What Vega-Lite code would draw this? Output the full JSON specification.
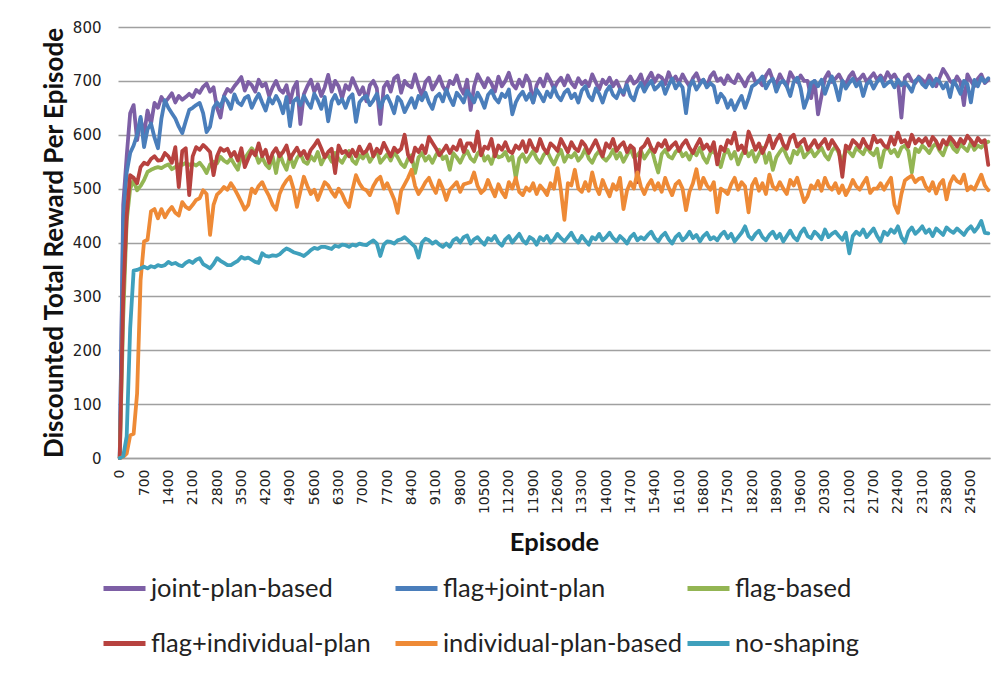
{
"$schema": "https://vega.github.io/schema/vega-lite/v6.json",
"width": 872, "height": 431,
"autosize": {"type": "none"},
"padding": {"left": 118, "top": 27, "right": 12, "bottom": 222},
"background": "white",
"config": {"view": {"stroke": null}},
"data": {"values": [
{"episode":0,"joint-plan-based":0,"flag+joint-plan":0,"flag-based":0,"flag+individual-plan":0,"individual-plan-based":0,"no-shaping":0},
{"episode":100,"joint-plan-based":470,"flag+joint-plan":440,"flag-based":260,"flag+individual-plan":300,"individual-plan-based":2,"no-shaping":3},
{"episode":200,"joint-plan-based":560,"flag+joint-plan":530,"flag-based":440,"flag+individual-plan":450,"individual-plan-based":8,"no-shaping":40},
{"episode":300,"joint-plan-based":640,"flag+joint-plan":566,"flag-based":500,"flag+individual-plan":525,"individual-plan-based":42,"no-shaping":240},
{"episode":400,"joint-plan-based":655,"flag+joint-plan":580,"flag-based":515,"flag+individual-plan":520,"individual-plan-based":45,"no-shaping":348},
{"episode":500,"joint-plan-based":590,"flag+joint-plan":600,"flag-based":497,"flag+individual-plan":510,"individual-plan-based":120,"no-shaping":349},
{"episode":600,"joint-plan-based":630,"flag+joint-plan":633,"flag-based":505,"flag+individual-plan":540,"individual-plan-based":330,"no-shaping":352},
{"episode":700,"joint-plan-based":600,"flag+joint-plan":577,"flag-based":516,"flag+individual-plan":548,"individual-plan-based":402,"no-shaping":355},
{"episode":800,"joint-plan-based":645,"flag+joint-plan":610,"flag-based":531,"flag+individual-plan":545,"individual-plan-based":405,"no-shaping":352},
{"episode":900,"joint-plan-based":620,"flag+joint-plan":621,"flag-based":535,"flag+individual-plan":555,"individual-plan-based":458,"no-shaping":356},
{"episode":1000,"joint-plan-based":659,"flag+joint-plan":595,"flag-based":538,"flag+individual-plan":560,"individual-plan-based":462,"no-shaping":354},
{"episode":1100,"joint-plan-based":650,"flag+joint-plan":575,"flag-based":540,"flag+individual-plan":552,"individual-plan-based":445,"no-shaping":358},
{"episode":1200,"joint-plan-based":670,"flag+joint-plan":630,"flag-based":538,"flag+individual-plan":553,"individual-plan-based":462,"no-shaping":356},
{"episode":1300,"joint-plan-based":660,"flag+joint-plan":664,"flag-based":542,"flag+individual-plan":566,"individual-plan-based":447,"no-shaping":358},
{"episode":1400,"joint-plan-based":668,"flag+joint-plan":650,"flag-based":545,"flag+individual-plan":560,"individual-plan-based":458,"no-shaping":364},
{"episode":1500,"joint-plan-based":677,"flag+joint-plan":640,"flag-based":536,"flag+individual-plan":548,"individual-plan-based":466,"no-shaping":360},
{"episode":1600,"joint-plan-based":660,"flag+joint-plan":630,"flag-based":540,"flag+individual-plan":577,"individual-plan-based":455,"no-shaping":362},
{"episode":1700,"joint-plan-based":672,"flag+joint-plan":615,"flag-based":545,"flag+individual-plan":503,"individual-plan-based":450,"no-shaping":358},
{"episode":1800,"joint-plan-based":665,"flag+joint-plan":603,"flag-based":544,"flag+individual-plan":570,"individual-plan-based":475,"no-shaping":356},
{"episode":1900,"joint-plan-based":670,"flag+joint-plan":625,"flag-based":548,"flag+individual-plan":575,"individual-plan-based":466,"no-shaping":362},
{"episode":2000,"joint-plan-based":676,"flag+joint-plan":646,"flag-based":544,"flag+individual-plan":488,"individual-plan-based":462,"no-shaping":366},
{"episode":2100,"joint-plan-based":670,"flag+joint-plan":650,"flag-based":546,"flag+individual-plan":560,"individual-plan-based":470,"no-shaping":362},
{"episode":2200,"joint-plan-based":683,"flag+joint-plan":655,"flag-based":543,"flag+individual-plan":577,"individual-plan-based":479,"no-shaping":368},
{"episode":2300,"joint-plan-based":678,"flag+joint-plan":659,"flag-based":548,"flag+individual-plan":572,"individual-plan-based":482,"no-shaping":371},
{"episode":2400,"joint-plan-based":689,"flag+joint-plan":640,"flag-based":540,"flag+individual-plan":581,"individual-plan-based":497,"no-shaping":360},
{"episode":2500,"joint-plan-based":695,"flag+joint-plan":605,"flag-based":529,"flag+individual-plan":575,"individual-plan-based":490,"no-shaping":356},
{"episode":2600,"joint-plan-based":680,"flag+joint-plan":615,"flag-based":545,"flag+individual-plan":568,"individual-plan-based":414,"no-shaping":352},
{"episode":2700,"joint-plan-based":688,"flag+joint-plan":650,"flag-based":550,"flag+individual-plan":525,"individual-plan-based":470,"no-shaping":360},
{"episode":2800,"joint-plan-based":650,"flag+joint-plan":660,"flag-based":547,"flag+individual-plan":560,"individual-plan-based":489,"no-shaping":371},
{"episode":2900,"joint-plan-based":632,"flag+joint-plan":652,"flag-based":559,"flag+individual-plan":575,"individual-plan-based":495,"no-shaping":366},
{"episode":3000,"joint-plan-based":672,"flag+joint-plan":670,"flag-based":552,"flag+individual-plan":570,"individual-plan-based":503,"no-shaping":362},
{"episode":3100,"joint-plan-based":685,"flag+joint-plan":662,"flag-based":548,"flag+individual-plan":574,"individual-plan-based":498,"no-shaping":358},
{"episode":3200,"joint-plan-based":680,"flag+joint-plan":648,"flag-based":556,"flag+individual-plan":560,"individual-plan-based":510,"no-shaping":358},
{"episode":3300,"joint-plan-based":690,"flag+joint-plan":675,"flag-based":545,"flag+individual-plan":568,"individual-plan-based":500,"no-shaping":362},
{"episode":3400,"joint-plan-based":698,"flag+joint-plan":660,"flag-based":535,"flag+individual-plan":552,"individual-plan-based":488,"no-shaping":366},
{"episode":3500,"joint-plan-based":707,"flag+joint-plan":655,"flag-based":562,"flag+individual-plan":575,"individual-plan-based":475,"no-shaping":373},
{"episode":3600,"joint-plan-based":682,"flag+joint-plan":668,"flag-based":556,"flag+individual-plan":540,"individual-plan-based":461,"no-shaping":370},
{"episode":3700,"joint-plan-based":698,"flag+joint-plan":672,"flag-based":566,"flag+individual-plan":556,"individual-plan-based":470,"no-shaping":372},
{"episode":3800,"joint-plan-based":692,"flag+joint-plan":650,"flag-based":575,"flag+individual-plan":570,"individual-plan-based":500,"no-shaping":368},
{"episode":3900,"joint-plan-based":680,"flag+joint-plan":664,"flag-based":566,"flag+individual-plan":562,"individual-plan-based":492,"no-shaping":364},
{"episode":4000,"joint-plan-based":702,"flag+joint-plan":676,"flag-based":548,"flag+individual-plan":584,"individual-plan-based":505,"no-shaping":362},
{"episode":4100,"joint-plan-based":690,"flag+joint-plan":660,"flag-based":558,"flag+individual-plan":560,"individual-plan-based":512,"no-shaping":380},
{"episode":4200,"joint-plan-based":695,"flag+joint-plan":645,"flag-based":545,"flag+individual-plan":572,"individual-plan-based":498,"no-shaping":375},
{"episode":4300,"joint-plan-based":672,"flag+joint-plan":668,"flag-based":538,"flag+individual-plan":548,"individual-plan-based":486,"no-shaping":374},
{"episode":4400,"joint-plan-based":688,"flag+joint-plan":658,"flag-based":560,"flag+individual-plan":566,"individual-plan-based":470,"no-shaping":376},
{"episode":4500,"joint-plan-based":700,"flag+joint-plan":672,"flag-based":529,"flag+individual-plan":575,"individual-plan-based":461,"no-shaping":375},
{"episode":4600,"joint-plan-based":684,"flag+joint-plan":660,"flag-based":566,"flag+individual-plan":560,"individual-plan-based":490,"no-shaping":378},
{"episode":4700,"joint-plan-based":678,"flag+joint-plan":640,"flag-based":548,"flag+individual-plan":568,"individual-plan-based":505,"no-shaping":384},
{"episode":4800,"joint-plan-based":692,"flag+joint-plan":670,"flag-based":535,"flag+individual-plan":580,"individual-plan-based":515,"no-shaping":389},
{"episode":4900,"joint-plan-based":660,"flag+joint-plan":616,"flag-based":562,"flag+individual-plan":555,"individual-plan-based":522,"no-shaping":386},
{"episode":5000,"joint-plan-based":686,"flag+joint-plan":662,"flag-based":540,"flag+individual-plan":566,"individual-plan-based":500,"no-shaping":382},
{"episode":5100,"joint-plan-based":698,"flag+joint-plan":668,"flag-based":556,"flag+individual-plan":576,"individual-plan-based":466,"no-shaping":380},
{"episode":5200,"joint-plan-based":620,"flag+joint-plan":655,"flag-based":565,"flag+individual-plan":562,"individual-plan-based":495,"no-shaping":378},
{"episode":5300,"joint-plan-based":675,"flag+joint-plan":672,"flag-based":550,"flag+individual-plan":570,"individual-plan-based":522,"no-shaping":375},
{"episode":5400,"joint-plan-based":690,"flag+joint-plan":660,"flag-based":546,"flag+individual-plan":556,"individual-plan-based":505,"no-shaping":380},
{"episode":5500,"joint-plan-based":702,"flag+joint-plan":650,"flag-based":560,"flag+individual-plan":572,"individual-plan-based":490,"no-shaping":386},
{"episode":5600,"joint-plan-based":680,"flag+joint-plan":676,"flag-based":552,"flag+individual-plan":580,"individual-plan-based":498,"no-shaping":390},
{"episode":5700,"joint-plan-based":694,"flag+joint-plan":664,"flag-based":568,"flag+individual-plan":590,"individual-plan-based":479,"no-shaping":388},
{"episode":5800,"joint-plan-based":672,"flag+joint-plan":648,"flag-based":545,"flag+individual-plan":575,"individual-plan-based":496,"no-shaping":392},
{"episode":5900,"joint-plan-based":688,"flag+joint-plan":670,"flag-based":558,"flag+individual-plan":558,"individual-plan-based":512,"no-shaping":392},
{"episode":6000,"joint-plan-based":711,"flag+joint-plan":625,"flag-based":562,"flag+individual-plan":568,"individual-plan-based":506,"no-shaping":390},
{"episode":6100,"joint-plan-based":680,"flag+joint-plan":662,"flag-based":550,"flag+individual-plan":574,"individual-plan-based":494,"no-shaping":388},
{"episode":6200,"joint-plan-based":700,"flag+joint-plan":674,"flag-based":566,"flag+individual-plan":529,"individual-plan-based":485,"no-shaping":394},
{"episode":6300,"joint-plan-based":690,"flag+joint-plan":658,"flag-based":555,"flag+individual-plan":580,"individual-plan-based":500,"no-shaping":392},
{"episode":6400,"joint-plan-based":668,"flag+joint-plan":666,"flag-based":548,"flag+individual-plan":566,"individual-plan-based":490,"no-shaping":396},
{"episode":6500,"joint-plan-based":692,"flag+joint-plan":650,"flag-based":560,"flag+individual-plan":570,"individual-plan-based":475,"no-shaping":395},
{"episode":6600,"joint-plan-based":684,"flag+joint-plan":668,"flag-based":570,"flag+individual-plan":560,"individual-plan-based":466,"no-shaping":392},
{"episode":6700,"joint-plan-based":705,"flag+joint-plan":675,"flag-based":552,"flag+individual-plan":572,"individual-plan-based":498,"no-shaping":396},
{"episode":6800,"joint-plan-based":690,"flag+joint-plan":624,"flag-based":546,"flag+individual-plan":560,"individual-plan-based":525,"no-shaping":394},
{"episode":6900,"joint-plan-based":675,"flag+joint-plan":660,"flag-based":562,"flag+individual-plan":578,"individual-plan-based":510,"no-shaping":398},
{"episode":7000,"joint-plan-based":688,"flag+joint-plan":668,"flag-based":556,"flag+individual-plan":565,"individual-plan-based":500,"no-shaping":396},
{"episode":7100,"joint-plan-based":662,"flag+joint-plan":672,"flag-based":566,"flag+individual-plan":570,"individual-plan-based":497,"no-shaping":395},
{"episode":7200,"joint-plan-based":692,"flag+joint-plan":655,"flag-based":550,"flag+individual-plan":582,"individual-plan-based":488,"no-shaping":400},
{"episode":7300,"joint-plan-based":700,"flag+joint-plan":664,"flag-based":560,"flag+individual-plan":560,"individual-plan-based":505,"no-shaping":404},
{"episode":7400,"joint-plan-based":686,"flag+joint-plan":676,"flag-based":572,"flag+individual-plan":574,"individual-plan-based":516,"no-shaping":398},
{"episode":7500,"joint-plan-based":620,"flag+joint-plan":650,"flag-based":548,"flag+individual-plan":566,"individual-plan-based":522,"no-shaping":375},
{"episode":7600,"joint-plan-based":688,"flag+joint-plan":666,"flag-based":556,"flag+individual-plan":585,"individual-plan-based":500,"no-shaping":396},
{"episode":7700,"joint-plan-based":698,"flag+joint-plan":672,"flag-based":564,"flag+individual-plan":572,"individual-plan-based":510,"no-shaping":402},
{"episode":7800,"joint-plan-based":680,"flag+joint-plan":658,"flag-based":552,"flag+individual-plan":560,"individual-plan-based":495,"no-shaping":401},
{"episode":7900,"joint-plan-based":705,"flag+joint-plan":640,"flag-based":568,"flag+individual-plan":576,"individual-plan-based":480,"no-shaping":398},
{"episode":8000,"joint-plan-based":710,"flag+joint-plan":670,"flag-based":558,"flag+individual-plan":568,"individual-plan-based":455,"no-shaping":404},
{"episode":8100,"joint-plan-based":678,"flag+joint-plan":662,"flag-based":546,"flag+individual-plan":574,"individual-plan-based":496,"no-shaping":406},
{"episode":8200,"joint-plan-based":700,"flag+joint-plan":642,"flag-based":540,"flag+individual-plan":600,"individual-plan-based":508,"no-shaping":410},
{"episode":8300,"joint-plan-based":692,"flag+joint-plan":655,"flag-based":556,"flag+individual-plan":562,"individual-plan-based":520,"no-shaping":404},
{"episode":8400,"joint-plan-based":688,"flag+joint-plan":668,"flag-based":562,"flag+individual-plan":550,"individual-plan-based":535,"no-shaping":398},
{"episode":8500,"joint-plan-based":712,"flag+joint-plan":650,"flag-based":529,"flag+individual-plan":576,"individual-plan-based":505,"no-shaping":392},
{"episode":8600,"joint-plan-based":690,"flag+joint-plan":672,"flag-based":558,"flag+individual-plan":568,"individual-plan-based":490,"no-shaping":372},
{"episode":8700,"joint-plan-based":672,"flag+joint-plan":664,"flag-based":566,"flag+individual-plan":580,"individual-plan-based":500,"no-shaping":400},
{"episode":8800,"joint-plan-based":698,"flag+joint-plan":678,"flag-based":552,"flag+individual-plan":566,"individual-plan-based":512,"no-shaping":407},
{"episode":8900,"joint-plan-based":706,"flag+joint-plan":660,"flag-based":560,"flag+individual-plan":596,"individual-plan-based":520,"no-shaping":404},
{"episode":9000,"joint-plan-based":684,"flag+joint-plan":648,"flag-based":548,"flag+individual-plan":585,"individual-plan-based":504,"no-shaping":398},
{"episode":9100,"joint-plan-based":695,"flag+joint-plan":670,"flag-based":562,"flag+individual-plan":575,"individual-plan-based":492,"no-shaping":402},
{"episode":9200,"joint-plan-based":708,"flag+joint-plan":676,"flag-based":572,"flag+individual-plan":562,"individual-plan-based":515,"no-shaping":396},
{"episode":9300,"joint-plan-based":690,"flag+joint-plan":662,"flag-based":555,"flag+individual-plan":570,"individual-plan-based":500,"no-shaping":392},
{"episode":9400,"joint-plan-based":680,"flag+joint-plan":684,"flag-based":560,"flag+individual-plan":580,"individual-plan-based":479,"no-shaping":398},
{"episode":9500,"joint-plan-based":700,"flag+joint-plan":668,"flag-based":535,"flag+individual-plan":566,"individual-plan-based":498,"no-shaping":392},
{"episode":9600,"joint-plan-based":694,"flag+joint-plan":655,"flag-based":566,"flag+individual-plan":578,"individual-plan-based":505,"no-shaping":404},
{"episode":9700,"joint-plan-based":710,"flag+joint-plan":678,"flag-based":558,"flag+individual-plan":572,"individual-plan-based":512,"no-shaping":408},
{"episode":9800,"joint-plan-based":688,"flag+joint-plan":670,"flag-based":548,"flag+individual-plan":590,"individual-plan-based":494,"no-shaping":400},
{"episode":9900,"joint-plan-based":676,"flag+joint-plan":660,"flag-based":562,"flag+individual-plan":568,"individual-plan-based":508,"no-shaping":410},
{"episode":10000,"joint-plan-based":702,"flag+joint-plan":682,"flag-based":570,"flag+individual-plan":584,"individual-plan-based":510,"no-shaping":413},
{"episode":10100,"joint-plan-based":646,"flag+joint-plan":672,"flag-based":556,"flag+individual-plan":584,"individual-plan-based":512,"no-shaping":398},
{"episode":10200,"joint-plan-based":690,"flag+joint-plan":660,"flag-based":550,"flag+individual-plan":570,"individual-plan-based":530,"no-shaping":406},
{"episode":10300,"joint-plan-based":712,"flag+joint-plan":678,"flag-based":565,"flag+individual-plan":606,"individual-plan-based":505,"no-shaping":410},
{"episode":10400,"joint-plan-based":700,"flag+joint-plan":666,"flag-based":572,"flag+individual-plan":562,"individual-plan-based":492,"no-shaping":402},
{"episode":10500,"joint-plan-based":688,"flag+joint-plan":650,"flag-based":552,"flag+individual-plan":578,"individual-plan-based":498,"no-shaping":396},
{"episode":10600,"joint-plan-based":705,"flag+joint-plan":674,"flag-based":560,"flag+individual-plan":574,"individual-plan-based":516,"no-shaping":408},
{"episode":10700,"joint-plan-based":695,"flag+joint-plan":682,"flag-based":546,"flag+individual-plan":592,"individual-plan-based":500,"no-shaping":404},
{"episode":10800,"joint-plan-based":680,"flag+joint-plan":668,"flag-based":566,"flag+individual-plan":560,"individual-plan-based":486,"no-shaping":412},
{"episode":10900,"joint-plan-based":708,"flag+joint-plan":660,"flag-based":558,"flag+individual-plan":580,"individual-plan-based":508,"no-shaping":400},
{"episode":11000,"joint-plan-based":690,"flag+joint-plan":676,"flag-based":560,"flag+individual-plan":572,"individual-plan-based":494,"no-shaping":394},
{"episode":11100,"joint-plan-based":700,"flag+joint-plan":670,"flag-based":568,"flag+individual-plan":586,"individual-plan-based":484,"no-shaping":406},
{"episode":11200,"joint-plan-based":715,"flag+joint-plan":684,"flag-based":552,"flag+individual-plan":570,"individual-plan-based":512,"no-shaping":412},
{"episode":11300,"joint-plan-based":694,"flag+joint-plan":638,"flag-based":560,"flag+individual-plan":566,"individual-plan-based":500,"no-shaping":400},
{"episode":11400,"joint-plan-based":686,"flag+joint-plan":660,"flag-based":520,"flag+individual-plan":580,"individual-plan-based":520,"no-shaping":408},
{"episode":11500,"joint-plan-based":702,"flag+joint-plan":672,"flag-based":556,"flag+individual-plan":574,"individual-plan-based":494,"no-shaping":416},
{"episode":11600,"joint-plan-based":690,"flag+joint-plan":680,"flag-based":564,"flag+individual-plan":588,"individual-plan-based":488,"no-shaping":404},
{"episode":11700,"joint-plan-based":710,"flag+joint-plan":665,"flag-based":550,"flag+individual-plan":568,"individual-plan-based":502,"no-shaping":398},
{"episode":11800,"joint-plan-based":698,"flag+joint-plan":676,"flag-based":560,"flag+individual-plan":590,"individual-plan-based":496,"no-shaping":410},
{"episode":11900,"joint-plan-based":660,"flag+joint-plan":660,"flag-based":570,"flag+individual-plan":576,"individual-plan-based":510,"no-shaping":406},
{"episode":12000,"joint-plan-based":692,"flag+joint-plan":684,"flag-based":556,"flag+individual-plan":570,"individual-plan-based":490,"no-shaping":396},
{"episode":12100,"joint-plan-based":704,"flag+joint-plan":674,"flag-based":548,"flag+individual-plan":592,"individual-plan-based":506,"no-shaping":410},
{"episode":12200,"joint-plan-based":690,"flag+joint-plan":662,"flag-based":562,"flag+individual-plan":575,"individual-plan-based":498,"no-shaping":404},
{"episode":12300,"joint-plan-based":712,"flag+joint-plan":680,"flag-based":570,"flag+individual-plan":566,"individual-plan-based":488,"no-shaping":412},
{"episode":12400,"joint-plan-based":700,"flag+joint-plan":670,"flag-based":556,"flag+individual-plan":584,"individual-plan-based":510,"no-shaping":400},
{"episode":12500,"joint-plan-based":685,"flag+joint-plan":688,"flag-based":545,"flag+individual-plan":578,"individual-plan-based":500,"no-shaping":406},
{"episode":12600,"joint-plan-based":698,"flag+joint-plan":672,"flag-based":560,"flag+individual-plan":570,"individual-plan-based":538,"no-shaping":416},
{"episode":12700,"joint-plan-based":706,"flag+joint-plan":664,"flag-based":572,"flag+individual-plan":592,"individual-plan-based":496,"no-shaping":408},
{"episode":12800,"joint-plan-based":692,"flag+joint-plan":678,"flag-based":550,"flag+individual-plan":580,"individual-plan-based":442,"no-shaping":402},
{"episode":12900,"joint-plan-based":710,"flag+joint-plan":684,"flag-based":562,"flag+individual-plan":568,"individual-plan-based":510,"no-shaping":410},
{"episode":13000,"joint-plan-based":696,"flag+joint-plan":668,"flag-based":558,"flag+individual-plan":586,"individual-plan-based":506,"no-shaping":418},
{"episode":13100,"joint-plan-based":688,"flag+joint-plan":676,"flag-based":566,"flag+individual-plan":575,"individual-plan-based":535,"no-shaping":406},
{"episode":13200,"joint-plan-based":705,"flag+joint-plan":660,"flag-based":552,"flag+individual-plan":570,"individual-plan-based":500,"no-shaping":400},
{"episode":13300,"joint-plan-based":694,"flag+joint-plan":682,"flag-based":560,"flag+individual-plan":588,"individual-plan-based":494,"no-shaping":412},
{"episode":13400,"joint-plan-based":700,"flag+joint-plan":690,"flag-based":574,"flag+individual-plan":580,"individual-plan-based":512,"no-shaping":404},
{"episode":13500,"joint-plan-based":690,"flag+joint-plan":672,"flag-based":556,"flag+individual-plan":566,"individual-plan-based":496,"no-shaping":396},
{"episode":13600,"joint-plan-based":712,"flag+joint-plan":664,"flag-based":548,"flag+individual-plan":578,"individual-plan-based":530,"no-shaping":410},
{"episode":13700,"joint-plan-based":698,"flag+joint-plan":686,"flag-based":562,"flag+individual-plan":590,"individual-plan-based":504,"no-shaping":406},
{"episode":13800,"joint-plan-based":684,"flag+joint-plan":676,"flag-based":570,"flag+individual-plan":574,"individual-plan-based":490,"no-shaping":416},
{"episode":13900,"joint-plan-based":702,"flag+joint-plan":660,"flag-based":558,"flag+individual-plan":560,"individual-plan-based":516,"no-shaping":404},
{"episode":14000,"joint-plan-based":694,"flag+joint-plan":680,"flag-based":552,"flag+individual-plan":584,"individual-plan-based":500,"no-shaping":410},
{"episode":14100,"joint-plan-based":706,"flag+joint-plan":690,"flag-based":560,"flag+individual-plan":576,"individual-plan-based":486,"no-shaping":418},
{"episode":14200,"joint-plan-based":690,"flag+joint-plan":674,"flag-based":572,"flag+individual-plan":592,"individual-plan-based":508,"no-shaping":408},
{"episode":14300,"joint-plan-based":700,"flag+joint-plan":668,"flag-based":556,"flag+individual-plan":570,"individual-plan-based":498,"no-shaping":402},
{"episode":14400,"joint-plan-based":686,"flag+joint-plan":684,"flag-based":566,"flag+individual-plan":580,"individual-plan-based":520,"no-shaping":412},
{"episode":14500,"joint-plan-based":674,"flag+joint-plan":678,"flag-based":550,"flag+individual-plan":586,"individual-plan-based":462,"no-shaping":406},
{"episode":14600,"joint-plan-based":698,"flag+joint-plan":692,"flag-based":562,"flag+individual-plan":568,"individual-plan-based":496,"no-shaping":398},
{"episode":14700,"joint-plan-based":708,"flag+joint-plan":672,"flag-based":574,"flag+individual-plan":580,"individual-plan-based":512,"no-shaping":410},
{"episode":14800,"joint-plan-based":695,"flag+joint-plan":664,"flag-based":558,"flag+individual-plan":574,"individual-plan-based":500,"no-shaping":416},
{"episode":14900,"joint-plan-based":700,"flag+joint-plan":686,"flag-based":562,"flag+individual-plan":512,"individual-plan-based":530,"no-shaping":404},
{"episode":15000,"joint-plan-based":712,"flag+joint-plan":696,"flag-based":570,"flag+individual-plan":574,"individual-plan-based":504,"no-shaping":410},
{"episode":15100,"joint-plan-based":690,"flag+joint-plan":680,"flag-based":556,"flag+individual-plan":580,"individual-plan-based":490,"no-shaping":406},
{"episode":15200,"joint-plan-based":704,"flag+joint-plan":692,"flag-based":566,"flag+individual-plan":592,"individual-plan-based":506,"no-shaping":414},
{"episode":15300,"joint-plan-based":715,"flag+joint-plan":700,"flag-based":576,"flag+individual-plan":575,"individual-plan-based":516,"no-shaping":420},
{"episode":15400,"joint-plan-based":698,"flag+joint-plan":684,"flag-based":552,"flag+individual-plan":568,"individual-plan-based":498,"no-shaping":408},
{"episode":15500,"joint-plan-based":710,"flag+joint-plan":690,"flag-based":530,"flag+individual-plan":584,"individual-plan-based":510,"no-shaping":402},
{"episode":15600,"joint-plan-based":706,"flag+joint-plan":698,"flag-based":564,"flag+individual-plan":578,"individual-plan-based":494,"no-shaping":412},
{"episode":15700,"joint-plan-based":694,"flag+joint-plan":676,"flag-based":572,"flag+individual-plan":590,"individual-plan-based":520,"no-shaping":418},
{"episode":15800,"joint-plan-based":716,"flag+joint-plan":692,"flag-based":560,"flag+individual-plan":572,"individual-plan-based":502,"no-shaping":406},
{"episode":15900,"joint-plan-based":700,"flag+joint-plan":704,"flag-based":556,"flag+individual-plan":580,"individual-plan-based":488,"no-shaping":398},
{"episode":16000,"joint-plan-based":708,"flag+joint-plan":686,"flag-based":568,"flag+individual-plan":586,"individual-plan-based":508,"no-shaping":410},
{"episode":16100,"joint-plan-based":696,"flag+joint-plan":696,"flag-based":574,"flag+individual-plan":570,"individual-plan-based":514,"no-shaping":416},
{"episode":16200,"joint-plan-based":712,"flag+joint-plan":688,"flag-based":560,"flag+individual-plan":582,"individual-plan-based":500,"no-shaping":404},
{"episode":16300,"joint-plan-based":700,"flag+joint-plan":640,"flag-based":566,"flag+individual-plan":590,"individual-plan-based":460,"no-shaping":410},
{"episode":16400,"joint-plan-based":690,"flag+joint-plan":690,"flag-based":554,"flag+individual-plan":576,"individual-plan-based":494,"no-shaping":420},
{"episode":16500,"joint-plan-based":705,"flag+joint-plan":700,"flag-based":570,"flag+individual-plan":566,"individual-plan-based":510,"no-shaping":408},
{"episode":16600,"joint-plan-based":714,"flag+joint-plan":684,"flag-based":562,"flag+individual-plan":580,"individual-plan-based":536,"no-shaping":414},
{"episode":16700,"joint-plan-based":698,"flag+joint-plan":694,"flag-based":576,"flag+individual-plan":592,"individual-plan-based":500,"no-shaping":402},
{"episode":16800,"joint-plan-based":702,"flag+joint-plan":702,"flag-based":558,"flag+individual-plan":574,"individual-plan-based":520,"no-shaping":412},
{"episode":16900,"joint-plan-based":690,"flag+joint-plan":688,"flag-based":548,"flag+individual-plan":582,"individual-plan-based":506,"no-shaping":418},
{"episode":17000,"joint-plan-based":708,"flag+joint-plan":696,"flag-based":566,"flag+individual-plan":570,"individual-plan-based":498,"no-shaping":406},
{"episode":17100,"joint-plan-based":716,"flag+joint-plan":690,"flag-based":570,"flag+individual-plan":586,"individual-plan-based":512,"no-shaping":410},
{"episode":17200,"joint-plan-based":700,"flag+joint-plan":660,"flag-based":558,"flag+individual-plan":545,"individual-plan-based":456,"no-shaping":404},
{"episode":17300,"joint-plan-based":705,"flag+joint-plan":676,"flag-based":540,"flag+individual-plan":578,"individual-plan-based":500,"no-shaping":414},
{"episode":17400,"joint-plan-based":694,"flag+joint-plan":668,"flag-based":564,"flag+individual-plan":570,"individual-plan-based":496,"no-shaping":420},
{"episode":17500,"joint-plan-based":710,"flag+joint-plan":650,"flag-based":572,"flag+individual-plan":590,"individual-plan-based":490,"no-shaping":408},
{"episode":17600,"joint-plan-based":700,"flag+joint-plan":664,"flag-based":556,"flag+individual-plan":584,"individual-plan-based":508,"no-shaping":416},
{"episode":17700,"joint-plan-based":696,"flag+joint-plan":646,"flag-based":568,"flag+individual-plan":604,"individual-plan-based":520,"no-shaping":402},
{"episode":17800,"joint-plan-based":712,"flag+joint-plan":660,"flag-based":545,"flag+individual-plan":572,"individual-plan-based":498,"no-shaping":410},
{"episode":17900,"joint-plan-based":702,"flag+joint-plan":672,"flag-based":562,"flag+individual-plan":580,"individual-plan-based":512,"no-shaping":418},
{"episode":18000,"joint-plan-based":690,"flag+joint-plan":650,"flag-based":574,"flag+individual-plan":566,"individual-plan-based":504,"no-shaping":430},
{"episode":18100,"joint-plan-based":706,"flag+joint-plan":668,"flag-based":560,"flag+individual-plan":606,"individual-plan-based":456,"no-shaping":412},
{"episode":18200,"joint-plan-based":714,"flag+joint-plan":690,"flag-based":570,"flag+individual-plan":590,"individual-plan-based":506,"no-shaping":406},
{"episode":18300,"joint-plan-based":698,"flag+joint-plan":694,"flag-based":550,"flag+individual-plan":572,"individual-plan-based":518,"no-shaping":416},
{"episode":18400,"joint-plan-based":700,"flag+joint-plan":700,"flag-based":564,"flag+individual-plan":584,"individual-plan-based":496,"no-shaping":422},
{"episode":18500,"joint-plan-based":692,"flag+joint-plan":708,"flag-based":576,"flag+individual-plan":566,"individual-plan-based":510,"no-shaping":410},
{"episode":18600,"joint-plan-based":710,"flag+joint-plan":686,"flag-based":548,"flag+individual-plan":580,"individual-plan-based":490,"no-shaping":404},
{"episode":18700,"joint-plan-based":720,"flag+joint-plan":698,"flag-based":566,"flag+individual-plan":598,"individual-plan-based":526,"no-shaping":414},
{"episode":18800,"joint-plan-based":702,"flag+joint-plan":704,"flag-based":535,"flag+individual-plan":575,"individual-plan-based":504,"no-shaping":420},
{"episode":18900,"joint-plan-based":694,"flag+joint-plan":680,"flag-based":558,"flag+individual-plan":590,"individual-plan-based":498,"no-shaping":408},
{"episode":19000,"joint-plan-based":712,"flag+joint-plan":696,"flag-based":568,"flag+individual-plan":600,"individual-plan-based":512,"no-shaping":416},
{"episode":19100,"joint-plan-based":700,"flag+joint-plan":700,"flag-based":576,"flag+individual-plan":582,"individual-plan-based":500,"no-shaping":402},
{"episode":19200,"joint-plan-based":690,"flag+joint-plan":690,"flag-based":560,"flag+individual-plan":574,"individual-plan-based":490,"no-shaping":412},
{"episode":19300,"joint-plan-based":716,"flag+joint-plan":672,"flag-based":548,"flag+individual-plan":594,"individual-plan-based":516,"no-shaping":422},
{"episode":19400,"joint-plan-based":705,"flag+joint-plan":698,"flag-based":570,"flag+individual-plan":600,"individual-plan-based":506,"no-shaping":410},
{"episode":19500,"joint-plan-based":698,"flag+joint-plan":706,"flag-based":564,"flag+individual-plan":578,"individual-plan-based":520,"no-shaping":404},
{"episode":19600,"joint-plan-based":710,"flag+joint-plan":686,"flag-based":578,"flag+individual-plan":586,"individual-plan-based":498,"no-shaping":418},
{"episode":19700,"joint-plan-based":700,"flag+joint-plan":650,"flag-based":558,"flag+individual-plan":592,"individual-plan-based":475,"no-shaping":426},
{"episode":19800,"joint-plan-based":700,"flag+joint-plan":668,"flag-based":566,"flag+individual-plan":572,"individual-plan-based":486,"no-shaping":412},
{"episode":19900,"joint-plan-based":668,"flag+joint-plan":696,"flag-based":572,"flag+individual-plan":580,"individual-plan-based":506,"no-shaping":408},
{"episode":20000,"joint-plan-based":700,"flag+joint-plan":700,"flag-based":560,"flag+individual-plan":590,"individual-plan-based":500,"no-shaping":420},
{"episode":20100,"joint-plan-based":638,"flag+joint-plan":690,"flag-based":568,"flag+individual-plan":576,"individual-plan-based":514,"no-shaping":414},
{"episode":20200,"joint-plan-based":672,"flag+joint-plan":702,"flag-based":576,"flag+individual-plan":584,"individual-plan-based":496,"no-shaping":406},
{"episode":20300,"joint-plan-based":705,"flag+joint-plan":676,"flag-based":562,"flag+individual-plan":592,"individual-plan-based":520,"no-shaping":424},
{"episode":20400,"joint-plan-based":716,"flag+joint-plan":694,"flag-based":554,"flag+individual-plan":574,"individual-plan-based":504,"no-shaping":410},
{"episode":20500,"joint-plan-based":698,"flag+joint-plan":708,"flag-based":570,"flag+individual-plan":590,"individual-plan-based":498,"no-shaping":416},
{"episode":20600,"joint-plan-based":704,"flag+joint-plan":690,"flag-based":578,"flag+individual-plan":580,"individual-plan-based":510,"no-shaping":420},
{"episode":20700,"joint-plan-based":712,"flag+joint-plan":664,"flag-based":566,"flag+individual-plan":570,"individual-plan-based":492,"no-shaping":412},
{"episode":20800,"joint-plan-based":700,"flag+joint-plan":700,"flag-based":548,"flag+individual-plan":522,"individual-plan-based":506,"no-shaping":405},
{"episode":20900,"joint-plan-based":694,"flag+joint-plan":686,"flag-based":574,"flag+individual-plan":580,"individual-plan-based":488,"no-shaping":418},
{"episode":21000,"joint-plan-based":708,"flag+joint-plan":696,"flag-based":568,"flag+individual-plan":574,"individual-plan-based":500,"no-shaping":380},
{"episode":21100,"joint-plan-based":716,"flag+joint-plan":704,"flag-based":560,"flag+individual-plan":590,"individual-plan-based":516,"no-shaping":412},
{"episode":21200,"joint-plan-based":700,"flag+joint-plan":690,"flag-based":576,"flag+individual-plan":584,"individual-plan-based":504,"no-shaping":420},
{"episode":21300,"joint-plan-based":704,"flag+joint-plan":698,"flag-based":570,"flag+individual-plan":576,"individual-plan-based":498,"no-shaping":414},
{"episode":21400,"joint-plan-based":712,"flag+joint-plan":672,"flag-based":564,"flag+individual-plan":592,"individual-plan-based":510,"no-shaping":424},
{"episode":21500,"joint-plan-based":698,"flag+joint-plan":694,"flag-based":578,"flag+individual-plan":580,"individual-plan-based":520,"no-shaping":410},
{"episode":21600,"joint-plan-based":706,"flag+joint-plan":700,"flag-based":568,"flag+individual-plan":574,"individual-plan-based":492,"no-shaping":418},
{"episode":21700,"joint-plan-based":714,"flag+joint-plan":686,"flag-based":562,"flag+individual-plan":598,"individual-plan-based":500,"no-shaping":426},
{"episode":21800,"joint-plan-based":702,"flag+joint-plan":698,"flag-based":574,"flag+individual-plan":586,"individual-plan-based":500,"no-shaping":412},
{"episode":21900,"joint-plan-based":710,"flag+joint-plan":706,"flag-based":540,"flag+individual-plan":590,"individual-plan-based":510,"no-shaping":402},
{"episode":22000,"joint-plan-based":700,"flag+joint-plan":690,"flag-based":570,"flag+individual-plan":580,"individual-plan-based":498,"no-shaping":420},
{"episode":22100,"joint-plan-based":716,"flag+joint-plan":696,"flag-based":578,"flag+individual-plan":576,"individual-plan-based":510,"no-shaping":414},
{"episode":22200,"joint-plan-based":705,"flag+joint-plan":700,"flag-based":566,"flag+individual-plan":596,"individual-plan-based":520,"no-shaping":424},
{"episode":22300,"joint-plan-based":712,"flag+joint-plan":688,"flag-based":572,"flag+individual-plan":582,"individual-plan-based":470,"no-shaping":418},
{"episode":22400,"joint-plan-based":700,"flag+joint-plan":702,"flag-based":560,"flag+individual-plan":604,"individual-plan-based":455,"no-shaping":430},
{"episode":22500,"joint-plan-based":632,"flag+joint-plan":692,"flag-based":576,"flag+individual-plan":586,"individual-plan-based":490,"no-shaping":410},
{"episode":22600,"joint-plan-based":706,"flag+joint-plan":698,"flag-based":580,"flag+individual-plan":590,"individual-plan-based":515,"no-shaping":400},
{"episode":22700,"joint-plan-based":712,"flag+joint-plan":690,"flag-based":570,"flag+individual-plan":578,"individual-plan-based":520,"no-shaping":420},
{"episode":22800,"joint-plan-based":700,"flag+joint-plan":680,"flag-based":530,"flag+individual-plan":600,"individual-plan-based":524,"no-shaping":428},
{"episode":22900,"joint-plan-based":696,"flag+joint-plan":700,"flag-based":574,"flag+individual-plan":584,"individual-plan-based":512,"no-shaping":416},
{"episode":23000,"joint-plan-based":708,"flag+joint-plan":706,"flag-based":568,"flag+individual-plan":592,"individual-plan-based":518,"no-shaping":422},
{"episode":23100,"joint-plan-based":702,"flag+joint-plan":694,"flag-based":580,"flag+individual-plan":586,"individual-plan-based":520,"no-shaping":430},
{"episode":23200,"joint-plan-based":696,"flag+joint-plan":688,"flag-based":574,"flag+individual-plan":594,"individual-plan-based":504,"no-shaping":418},
{"episode":23300,"joint-plan-based":710,"flag+joint-plan":700,"flag-based":566,"flag+individual-plan":580,"individual-plan-based":496,"no-shaping":424},
{"episode":23400,"joint-plan-based":700,"flag+joint-plan":690,"flag-based":578,"flag+individual-plan":596,"individual-plan-based":512,"no-shaping":412},
{"episode":23500,"joint-plan-based":690,"flag+joint-plan":704,"flag-based":584,"flag+individual-plan":588,"individual-plan-based":491,"no-shaping":426},
{"episode":23600,"joint-plan-based":706,"flag+joint-plan":698,"flag-based":570,"flag+individual-plan":574,"individual-plan-based":508,"no-shaping":420},
{"episode":23700,"joint-plan-based":722,"flag+joint-plan":686,"flag-based":562,"flag+individual-plan":590,"individual-plan-based":516,"no-shaping":414},
{"episode":23800,"joint-plan-based":712,"flag+joint-plan":696,"flag-based":580,"flag+individual-plan":582,"individual-plan-based":480,"no-shaping":428},
{"episode":23900,"joint-plan-based":700,"flag+joint-plan":670,"flag-based":586,"flag+individual-plan":596,"individual-plan-based":510,"no-shaping":422},
{"episode":24000,"joint-plan-based":694,"flag+joint-plan":700,"flag-based":574,"flag+individual-plan":588,"individual-plan-based":523,"no-shaping":418},
{"episode":24100,"joint-plan-based":708,"flag+joint-plan":690,"flag-based":568,"flag+individual-plan":578,"individual-plan-based":514,"no-shaping":426},
{"episode":24200,"joint-plan-based":698,"flag+joint-plan":676,"flag-based":582,"flag+individual-plan":592,"individual-plan-based":510,"no-shaping":420},
{"episode":24300,"joint-plan-based":655,"flag+joint-plan":700,"flag-based":576,"flag+individual-plan":584,"individual-plan-based":526,"no-shaping":414},
{"episode":24400,"joint-plan-based":712,"flag+joint-plan":694,"flag-based":570,"flag+individual-plan":598,"individual-plan-based":497,"no-shaping":424},
{"episode":24500,"joint-plan-based":700,"flag+joint-plan":660,"flag-based":586,"flag+individual-plan":590,"individual-plan-based":504,"no-shaping":430},
{"episode":24600,"joint-plan-based":690,"flag+joint-plan":702,"flag-based":572,"flag+individual-plan":580,"individual-plan-based":498,"no-shaping":420},
{"episode":24700,"joint-plan-based":704,"flag+joint-plan":690,"flag-based":580,"flag+individual-plan":594,"individual-plan-based":512,"no-shaping":428},
{"episode":24800,"joint-plan-based":712,"flag+joint-plan":706,"flag-based":576,"flag+individual-plan":586,"individual-plan-based":526,"no-shaping":440},
{"episode":24900,"joint-plan-based":696,"flag+joint-plan":698,"flag-based":584,"flag+individual-plan":590,"individual-plan-based":506,"no-shaping":418},
{"episode":25000,"joint-plan-based":702,"flag+joint-plan":705,"flag-based":587,"flag+individual-plan":544,"individual-plan-based":497,"no-shaping":417}
]},
"transform": [{"fold": ["joint-plan-based","flag+joint-plan","flag-based","flag+individual-plan","individual-plan-based","no-shaping"], "as": ["series","reward"]}],
"mark": {"type": "line", "strokeWidth": 3.8, "strokeJoin": "round", "strokeCap": "round"},
"encoding": {
"x": {"field": "episode", "type": "quantitative",
 "scale": {"domain": [-50, 25050], "nice": false, "zero": false},
 "axis": {"values": [0,700,1400,2100,2800,3500,4200,4900,5600,6300,7000,7700,8400,9100,9800,10500,11200,11900,12600,13300,14000,14700,15400,16100,16800,17500,18200,18900,19600,20300,21000,21700,22400,23100,23800,24500],
  "format": "d", "labelAngle": -90, "labelFont": "DejaVu Sans", "labelFontSize": 14, "labelColor": "#222222", "labelPadding": 11,
  "labelOverlap": false, "labelFlush": false, "ticks": false, "grid": false,
  "domainColor": "#a0a0a0", "domainWidth": 1.3,
  "title": "Episode", "titleFont": "Lato", "titleFontWeight": "bold", "titleFontSize": 25.5, "titleColor": "#111111", "titlePadding": 17}},
"y": {"field": "reward", "type": "quantitative",
 "scale": {"domain": [0, 800], "nice": false},
 "axis": {"values": [0,100,200,300,400,500,600,700,800],
  "labelFont": "DejaVu Sans", "labelFontSize": 15, "labelColor": "#222222", "labelPadding": 17,
  "ticks": false, "domain": false, "grid": true, "gridColor": "#a0a0a0", "gridWidth": 1.3,
  "title": "Discounted Total Reward Per Episode", "titleFont": "Lato", "titleFontWeight": "bold", "titleFontSize": 26, "titleColor": "#111111", "titlePadding": 5}},
"color": {"field": "series", "type": "nominal",
 "scale": {"domain": ["joint-plan-based","flag+joint-plan","flag-based","flag+individual-plan","individual-plan-based","no-shaping"],
  "range": ["#7D5FA5","#4A7EBB","#93B553","#B7423F","#EE8A36","#3FA0BC"]},
 "legend": {"title": null, "orient": "none", "legendX": -17, "legendY": 538, "direction": "horizontal", "columns": 3,
  "gridAlign": "all", "columnPadding": -6, "rowPadding": 18,
  "symbolType": "stroke", "symbolSize": 1764, "symbolStrokeWidth": 5,
  "labelFont": "Lato", "labelFontSize": 25.5, "labelColor": "#222222", "labelOffset": 3, "labelLimit": 400}}
}
}
